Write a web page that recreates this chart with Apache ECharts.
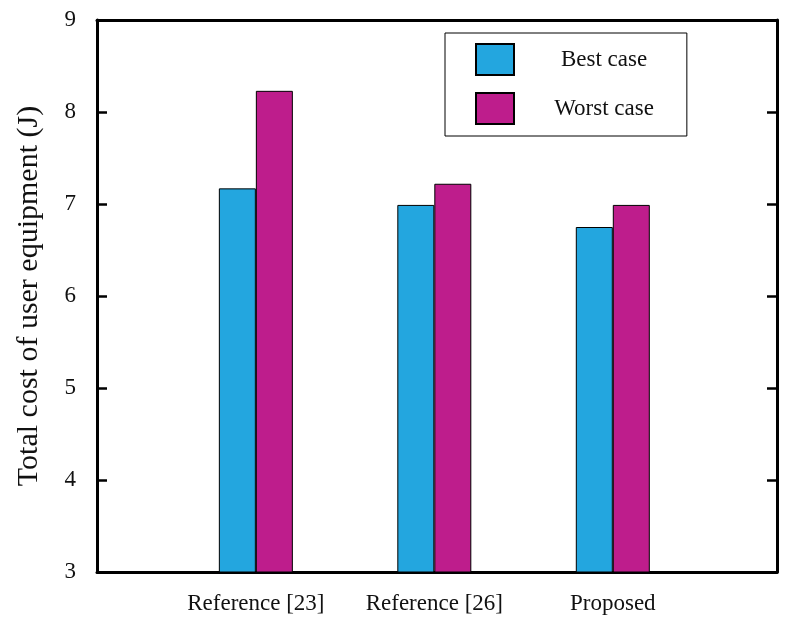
<!DOCTYPE html>
<html>
<head>
<meta charset="utf-8">
<script src="https://cdn.jsdelivr.net/npm/echarts@6/dist/echarts.min.js"></script>
<style>html,body{margin:0;padding:0;background:#fff;}#c{width:797px;height:628px;}</style>
</head>
<body>
<div id="c"></div>
<script>
const categories = ['Reference [23]', 'Reference [26]', 'Proposed'];
const categoryPositions = [1, 2, 3];
const bestCase = [7.17, 6.99, 6.75];
const worstCase = [8.23, 7.22, 6.99];
const yTicks = [3, 4, 5, 6, 7, 8, 9];
const seriesNames = ['Best case', 'Worst case'];

const font = '"Liberation Serif", "DejaVu Serif", serif';
const chart = echarts.init(document.getElementById('c'), null, {renderer: 'canvas'});
const toPairs = vals => vals.map((v, i) => [categoryPositions[i], v]);

chart.setOption({
  animation: false,
  backgroundColor: '#fff',
  grid: {left: 97, right: 20, top: 20, bottom: 56},
  legend: {
    orient: 'vertical',
    left: 445, top: 33,
    padding: [10, 33, 11, 30],
    itemWidth: 38, itemHeight: 31, itemGap: 16,
    icon: 'rect',
    borderColor: '#000', borderWidth: 1,
    data: seriesNames,
    formatter: n => '{t|' + n + '}',
    textStyle: {
      rich: {t: {width: 170, align: 'center', fontFamily: font, fontSize: 23, color: '#111'}}
    }
  },
  xAxis: [{
    type: 'value', min: 0.11, max: 3.92, position: 'bottom',
    axisLine: {show: true, onZero: false, lineStyle: {color: '#000', width: 3}},
    axisTick: {show: false},
    splitLine: {show: false},
    axisLabel: {
      customValues: categoryPositions,
      formatter: v => categories[categoryPositions.indexOf(Math.round(v))] || '',
      fontFamily: font, fontSize: 23, color: '#111', margin: 20
    }
  }, {
    type: 'value', min: 0.11, max: 3.92, position: 'top',
    axisLine: {show: true, onZero: false, lineStyle: {color: '#000', width: 3}},
    axisTick: {show: false}, axisLabel: {show: false}, splitLine: {show: false}
  }],
  yAxis: [{
    type: 'value', min: 3, max: 9, interval: 1, position: 'left',
    name: 'Total cost of user equipment (J)',
    nameLocation: 'middle', nameGap: 53,
    nameTextStyle: {fontFamily: font, fontSize: 30, color: '#111'},
    axisLine: {show: true, onZero: false, lineStyle: {color: '#000', width: 3}},
    axisTick: {show: true, inside: true, length: 10, lineStyle: {color: '#000', width: 2.5}},
    splitLine: {show: false},
    axisLabel: {
      customValues: yTicks,
      fontFamily: font, fontSize: 23, color: '#111', margin: 21
    }
  }, {
    type: 'value', min: 3, max: 9, interval: 1, position: 'right',
    axisLine: {show: true, onZero: false, lineStyle: {color: '#000', width: 3}},
    axisTick: {show: true, inside: true, length: 10, lineStyle: {color: '#000', width: 2.5}},
    axisLabel: {show: false}, splitLine: {show: false}
  }],
  series: [{
    name: seriesNames[0], type: 'bar', xAxisIndex: 0, yAxisIndex: 0,
    barWidth: 37, barGap: '0%',
    itemStyle: {color: '#23A6DF', borderColor: '#000', borderWidth: 1},
    data: toPairs(bestCase)
  }, {
    name: seriesNames[1], type: 'bar', xAxisIndex: 0, yAxisIndex: 0,
    barWidth: 37, barGap: '0%',
    itemStyle: {color: '#BE1D8C', borderColor: '#000', borderWidth: 1},
    data: toPairs(worstCase)
  }]
});
</script>
</body>
</html>
